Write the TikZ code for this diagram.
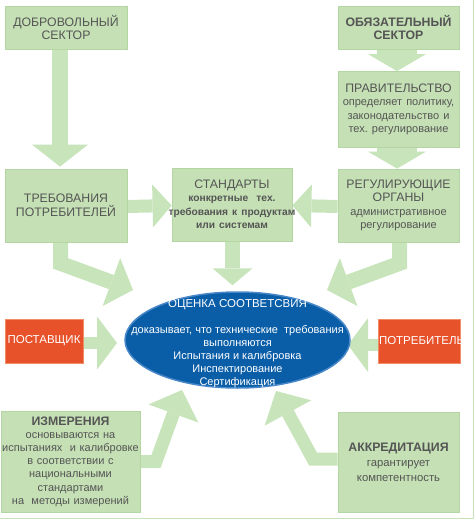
\documentclass[tikz,border=0pt]{standalone}
\usepackage{fontspec}
\setmainfont{Liberation Sans}
\usetikzlibrary{arrows.meta,shapes.geometric}
\frenchspacing

\definecolor{boxgreen}{RGB}{196,224,180}
\definecolor{boxedge}{RGB}{180,214,163}
\definecolor{arrgreen}{RGB}{199,228,186}
\definecolor{txtgray}{RGB}{85,85,85}
\definecolor{redbox}{RGB}{232,82,42}
\definecolor{rededge}{RGB}{243,140,102}
\definecolor{ellblue}{RGB}{10,94,168}
\definecolor{elledge}{RGB}{72,136,200}
\definecolor{framegreen}{RGB}{200,226,186}

\newcommand{\titf}{\fontsize{12.3}{13.5}\selectfont}
\newcommand{\subf}{\fontsize{11}{13.5}\selectfont}
\newcommand{\ctr}[1]{\makebox[0pt]{#1}}

\pgfdeclarelayer{bg}
\pgfsetlayers{bg,main}

\begin{document}
\begin{tikzpicture}[x=1pt,y=-1pt,
  gbox/.style={rectangle, fill=boxgreen, draw=boxedge, line width=0.8pt,
    inner sep=1pt, align=center, text=txtgray, font=\titf},
  rbox/.style={rectangle, fill=redbox, draw=rededge, line width=1pt,
    inner sep=1pt, align=center, text=white, font=\fontsize{11.5}{13.5}\selectfont},
  barrow/.style n args={3}{draw=arrgreen, line width=#1, line join=miter,
    miter limit=20, -{Triangle[width=#2, length=#3, line width=0pt]}}
]
\useasboundingbox (0,0) rectangle (476,522);

% frame lines
\draw[framegreen, line width=1.5pt] (473.5,0) -- (473.5,518.5) -- (0,518.5);

% tips of free arrow ends
\coordinate (tcons) at (133,290);
\coordinate (treg)  at (327,290);
\coordinate (tsup)  at (117,343);
\coordinate (tcus)  at (348,345);
\coordinate (tmeas) at (182,390);
\coordinate (tacc)  at (276,391);
\coordinate (cmeas) at (156,461.5);
\coordinate (cacc)  at (313,459);

% nodes
\node[gbox, minimum width=122pt, minimum height=43pt, text width=120pt] (vol) at (66,27.5)
  {ДОБРОВОЛЬНЫЙ\\СЕКТОР};
\node[gbox, minimum width=121pt, minimum height=43pt, text width=119pt, font=\titf\bfseries] (obl) at (398.5,27.5)
  {ОБЯЗАТЕЛЬНЫЙ\\СЕКТОР};
\node[gbox, minimum width=121pt, minimum height=76pt, text width=119pt] (gov) at (398.5,109.5)
  {ПРАВИТЕЛЬСТВО\\\subf \ctr{определяет политику,}\\законодательство и\\тех. регулирование};
\node[gbox, minimum width=122pt, minimum height=73pt, text width=120pt] (cons) at (66,205.5)
  {ТРЕБОВАНИЯ\\ПОТРЕБИТЕЛЕЙ};
\node[gbox, minimum width=120pt, minimum height=73pt, text width=118pt] (std) at (232,204.5)
  {СТАНДАРТЫ\\\fontsize{10.2}{13.5}\selectfont\bfseries \ctr{конкретные\ \ тех.}\\\ctr{требования к продуктам}\\\ctr{или системам}};
\node[gbox, minimum width=121pt, minimum height=73pt, text width=119pt] (reg) at (398.5,205.5)
  {РЕГУЛИРУЮЩИЕ\\ОРГАНЫ\\\subf \ctr{административное}\\регулирование};
\node[rbox, minimum width=78pt, minimum height=44pt, text width=76pt] (sup) at (44,341)
  {ПОСТАВЩИК};
\node[rbox, minimum width=82pt, minimum height=44pt, text width=80pt] (cus) at (419,341)
  {ПОТРЕБИТЕЛЬ};
\node[gbox, minimum width=139pt, minimum height=101pt, text width=137pt, font=\fontsize{11}{13.2}\selectfont] (meas) at (70.5,461.5)
  {\fontsize{12.3}{13.2}\selectfont\bfseries ИЗМЕРЕНИЯ\\\fontsize{11}{13.2}\selectfont\mdseries \ctr{основываются на}\\\ctr{испытаниях\ \ и калибровке}\\\ctr{в соответствии с}\\национальными\\стандартами\\\ctr{на\ \ методы измерений}};
\node[gbox, minimum width=121pt, minimum height=100pt, text width=119pt, font=\fontsize{11.3}{15}\selectfont] (acc) at (398.5,462)
  {\fontsize{12.3}{15}\selectfont\bfseries АККРЕДИТАЦИЯ\\\fontsize{11.3}{15}\selectfont\mdseries гарантирует\\компетентность};
\node[ellipse, fill=ellblue, draw=elledge, line width=1.5pt, minimum width=225pt, minimum height=96pt, inner sep=0pt] (ell) at (237.5,340) {};
\node[align=center, text=white, font=\fontsize{11}{13}\selectfont] (elltxt) at (237.5,343.5)
  {\fontsize{11.5}{13}\selectfont ОЦЕНКА СООТВЕТСВИЯ\\[13pt]\fontsize{11}{13}\selectfont доказывает, что технические\ \ требования\\выполняются\\Испытания и калибровка\\Инспектирование\\Сертификация};

% block arrows, behind the boxes
\begin{pgfonlayer}{bg}
\draw[barrow={16pt}{56pt}{22pt}] ([xshift=-6pt]vol.south) -- ([xshift=-6pt,yshift=2pt]cons.north);
\draw[barrow={40pt}{58pt}{17pt}] ([xshift=-1.5pt]obl.south) -- ([xshift=-1.5pt]gov.north);
\draw[barrow={40pt}{58pt}{17pt}] ([xshift=-1.5pt]gov.south) -- ([xshift=-1.5pt]reg.north);
\draw[barrow={13pt}{43pt}{19pt}] ([yshift=-1pt]cons.east) -- ([yshift=-1pt]std.west);
\draw[barrow={13pt}{43pt}{19pt}] ([yshift=-1pt]reg.west) -- ([yshift=-1pt]std.east);
\draw[barrow={15pt}{40pt}{17pt}] ([xshift=0.5pt]std.south) -- ([xshift=0.5pt,yshift=6pt]std.south |- ell.north);
\draw[barrow={15pt}{51pt}{23pt}] ([xshift=-5.5pt]cons.south) -- ++(0,21) -- (tcons);
\draw[barrow={15pt}{51pt}{23pt}] ([xshift=1pt]reg.south) -- ++(0,21) -- (treg);
\draw[barrow={12pt}{53pt}{20pt}] ([yshift=-2pt]sup.east) -- (tsup);
\draw[barrow={12pt}{54pt}{20pt}] ([yshift=-4pt]cus.west) -- (tcus);
\draw[barrow={13pt}{53pt}{25pt}] (meas.east) -- (cmeas) -- (tmeas);
\draw[barrow={13pt}{53pt}{25pt}] ([yshift=3pt]acc.west) -- (cacc) -- (tacc);
\end{pgfonlayer}
\end{tikzpicture}
\end{document}
